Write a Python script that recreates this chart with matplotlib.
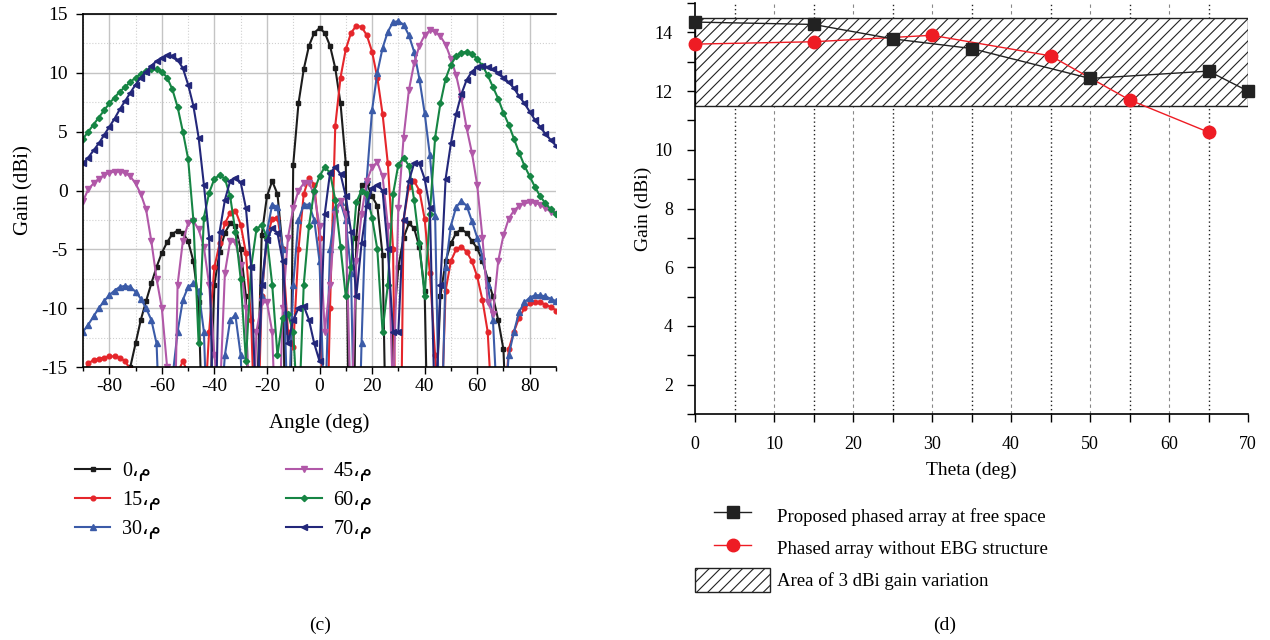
import numpy as np
import matplotlib
matplotlib.use("Agg")
import matplotlib.pyplot as plt
from matplotlib.lines import Line2D
from matplotlib.patches import Patch, Rectangle
from matplotlib.ticker import MultipleLocator
from matplotlib.legend_handler import HandlerLine2D

plt.rcParams["font.family"] = ["Liberation Serif", "DejaVu Sans"]
plt.rcParams["hatch.linewidth"] = 0.8
plt.rcParams["axes.unicode_minus"] = False

# -----------------------------
# (c) scanned patterns, gain vs angle, one sample every 2 deg
# -----------------------------
angles = np.arange(-90, 91, 2)

gain_0 = [
    -20, -20, -20, -20, -20, -20, -20, -20, -17, -15,
    -13, -11, -9.4, -7.9, -6.5, -5.3, -4.4, -3.7, -3.4, -3.6,
    -4.3, -6, -9.5, -25, -20, -8, -5.2, -3.6, -2.8, -3.0,
    -5, -9, -30, -20, -3.8, -0.5, 0.8, -0.3, -5, -40,
    2.2, 7.4, 10.3, 12.3, 13.4, 13.8, 13.4, 12.3, 10.4, 7.4,
    2.3, -40, -4, 0.5, 0.6, -0.5, -1.3, -5.5, -30, -12,
    -6.5, -4.0, -2.8, -3.2, -4.8, -8.5, -30, -20, -9, -6,
    -4.5, -3.6, -3.3, -3.6, -4.3, -4.9, -6, -7.5, -9, -11,
    -13.5, -25, -20, -20, -20, -20, -20, -20, -20, -20,
    -20,
]

gain_15 = [
    -16, -14.7, -14.4, -14.3, -14.2, -14.1, -14.1, -14.2, -14.5, -15.2,
    -18, -20, -20, -20, -20, -20, -20, -18, -15.5, -14.5,
    -15.5, -20, -25, -20, -12, -6.5, -4.5, -2.8, -1.9, -1.7,
    -2.9, -5.3, -11, -25, -9, -4, -2.4, -2.3, -5, -12,
    -13.3, -5, -0.3, 1.1, 0.5, -4, -30, -10, 5.5, 9.6,
    12, 13.4, 14, 13.9, 13.2, 11.8, 9.6, 6.5, 2.3, -5,
    -40, -2.5, 0.3, 0.8, 0, -2.4, -7, -14, -22, -8.5,
    -6, -5, -4.8, -5.2, -6, -7.3, -9.3, -12, -20, -25,
    -20, -13.5, -12, -10.8, -10, -9.6, -9.5, -9.5, -9.7, -9.9,
    -10.2,
]

gain_30 = [
    -12, -11.4, -10.7, -10, -9.4, -8.9, -8.5, -8.2, -8.1, -8.2,
    -8.6, -9.2, -10, -11, -13, -25, -20, -16, -12, -9.3,
    -8.2, -7.9, -8.5, -12, -25, -25, -20, -14, -11, -10.6,
    -14, -25, -25, -20, -9, -3.5, -1.2, -1.4, -5, -20,
    -8, -2.5, -1.2, -1.2, -2.5, -6, -20, -5, -1.5, -1,
    -2.5, -7, -30, -13, 1, 6.8, 10, 12.1, 13.5, 14.3,
    14.4, 14.1, 13.2, 11.8, 9.5, 6.6, 3, -2.2, -25, -6.5,
    -3, -1.4, -0.9, -1.3, -2.6, -4, -5.6, -8, -11, -20,
    -20, -14, -12, -10.3, -9.5, -9.1, -8.9, -8.9, -9, -9.2,
    -9.4,
]

gain_45 = [
    -0.9, 0.1, 0.6, 1.0, 1.3, 1.5, 1.6, 1.6, 1.5, 1.2,
    0.6, -0.3, -1.6, -4.3, -7.5, -10, -15, -30, -8, -4.3,
    -2.8, -2.6, -3.3, -4.8, -8, -14, -18, -7, -4.3, -4.4,
    -6.3, -10, -25, -12, -9.5, -9.5, -12, -25, -10, -4,
    -1.5, 0, 0.6, 0.6, -0.3, -3, -12, -8, -2, -0.9,
    -2, -20, -6, -2, 0.8, 2, 2.4, 1.2, -3, -18,
    -1.5, 4.5, 8.5, 10.8, 12.3, 13.2, 13.6, 13.5, 13.1, 12.4,
    11.2, 9.8, 7.8, 5.3, 3.2, 0.5, -4, -9.5, -10.5, -6,
    -3.8, -2.4, -1.7, -1.3, -1.1, -1, -1.05, -1.2, -1.5, -1.8,
    -2,
]

gain_60 = [
    4.4, 5.0, 5.6, 6.2, 6.8, 7.4, 7.9, 8.4, 8.8, 9.2,
    9.6, 9.9, 10.15, 10.3, 10.3, 10.1, 9.6, 8.6, 7.1, 5.0,
    2.7, -2.5, -13, -2.3, -0.2, 1.0, 1.3, 1.0, -0.5, -3.5,
    -7.5, -14.5, -6.5, -3.3, -2.9, -4, -8, -14, -10.8, -10.5,
    -12, -20, -8, -3, 0, 1.2, 2.0, 1.5, -0.8, -4.8,
    -9, -6.5, -1, 0, -0.3, -2.3, -5, -12, -8, -0.3,
    2.2, 2.8, 2.1, -0.8, -4.5, -9, -2, 4.5, 7.4, 9.5,
    10.7, 11.4, 11.7, 11.8, 11.6, 11.2, 10.6, 9.8, 8.8, 7.8,
    6.6, 5.6, 4.4, 3.2, 2.1, 1.2, 0.3, -0.5, -1.1, -1.6,
    -2.0,
]

gain_70 = [
    2.3, 2.8, 3.4, 4.0, 4.7, 5.4, 6.1, 6.9, 7.6, 8.3,
    9.0, 9.6, 10.1, 10.6, 11.0, 11.3, 11.5, 11.45, 11.1, 10.4,
    9.0, 7.2, 4.5, 0.5, -4, -25, -3.5, -0.8, 0.8, 1.1,
    0.7, -1.5, -6.5, -20, -8, -4.2, -3.2, -3.6, -6, -13,
    -11, -10, -9.8, -11, -13, -14.5, -2, 1.5, 2.0, 1.4,
    -0.5, -3.5, -9, -4.5, -1.3, 0.2, 0.5, 0, -5, -12,
    -12, -2.5, 0.8, 2.3, 2.3, 1.0, -1.5, -20, -8, 1.0,
    4, 6.5, 8.2, 9.4, 10.1, 10.5, 10.6, 10.5, 10.3, 10.0,
    9.6, 9.2, 8.7, 8.0, 7.4, 6.7, 6.0, 5.4, 4.8, 4.3,
    3.8,
]

scan_labels = ["0\u060c\u0645", "15\u060c\u0645", "30\u060c\u0645",
               "45\u060c\u0645", "60\u060c\u0645", "70\u060c\u0645"]

# -----------------------------
# (d) peak gain vs scan angle
# -----------------------------
theta_free = [0, 15, 25, 35, 50, 65, 70]
gain_free = [14.35, 14.27, 13.78, 13.45, 12.43, 12.68, 12.0]

theta_no_ebg = [0, 15, 30, 45, 55, 65]
gain_no_ebg = [13.6, 13.68, 13.9, 13.2, 11.7, 10.6]

band_low = 11.5
band_high = 14.5

W, H = 1270, 640
fig = plt.figure(figsize=(W / 100, H / 100), dpi=100)


def box(x0, y0, x1, y1):
    return [x0 / W, 1 - y1 / H, (x1 - x0) / W, (y1 - y0) / H]


class ShortLine(HandlerLine2D):
    # legend line drawn shorter than the handle box, centred in it
    def create_artists(self, legend, orig_handle, xdescent, ydescent,
                       width, height, fontsize, trans):
        cut = width * 0.25
        return super().create_artists(legend, orig_handle, xdescent - cut,
                                      ydescent, width - 2 * cut, height,
                                      fontsize, trans)


# -----------------------------
# Left panel
# -----------------------------
ax1 = fig.add_axes(box(83, 14, 556, 367))

series = [
    (gain_0, "#1c1c1c", "s", 3.2),
    (gain_15, "#e5262b", "o", 3.4),
    (gain_30, "#3b5ba8", "^", 4.0),
    (gain_45, "#b158a8", "v", 4.0),
    (gain_60, "#168544", "D", 3.2),
    (gain_70, "#23277a", "<", 4.0),
]

for (vals, color, marker, ms), label in zip(series, scan_labels):
    ax1.plot(angles, vals, color=color, marker=marker, markersize=ms,
             linewidth=1.5, label=label)

ax1.set_xlim(-90, 90)
ax1.set_ylim(-15, 15)
ax1.xaxis.set_major_locator(MultipleLocator(20))
ax1.xaxis.set_minor_locator(MultipleLocator(10))
ax1.yaxis.set_major_locator(MultipleLocator(5))
ax1.yaxis.set_minor_locator(MultipleLocator(2.5))
ax1.grid(True, which="major", color="#c4c4c4", linewidth=1.0)
ax1.grid(True, which="minor", color="#d0d0d0", linewidth=0.8, linestyle=":")
ax1.set_axisbelow(True)
ax1.spines["right"].set_visible(False)
for s in ["top", "left", "bottom"]:
    ax1.spines[s].set_linewidth(1.2)
ax1.tick_params(which="both", direction="out", labelsize=14, width=1)
ax1.tick_params(which="major", length=5, pad=3)
ax1.tick_params(which="minor", length=3)
ax1.tick_params(axis="y", which="minor", length=0)
ax1.tick_params(axis="y", which="major", pad=6)
ax1.set_xlabel("Angle (deg)", fontsize=15, labelpad=13)
ax1.set_ylabel("Gain (dBi)", fontsize=15, labelpad=6)

ax1.legend(loc="upper left", bbox_to_anchor=(-0.017, -0.269), ncol=2,
           frameon=False, fontsize=14.5, handlelength=1.75, borderpad=0,
           borderaxespad=0, columnspacing=6.2, labelspacing=0.5,
           handletextpad=0.6)

fig.text(320 / W, 1 - 625 / H, "(c)", fontsize=14, ha="center", va="center")

# -----------------------------
# Right panel
# -----------------------------
ax2 = fig.add_axes(box(695, 3, 1248, 414))

for x in range(5, 70, 10):
    ax2.axvline(x, color="#222222", linestyle=(0, (1, 2)), linewidth=1.0, zorder=1)
for x in range(10, 70, 10):
    ax2.axvline(x, color="#888888", linestyle=(0, (3, 3)), linewidth=0.8, zorder=1)

ax2.add_patch(Rectangle((0, band_low), 70, band_high - band_low,
                        facecolor="white", edgecolor="#222222",
                        hatch="///", linewidth=1.0, zorder=2))

ax2.plot(theta_free, gain_free, color="#222222", marker="s", markersize=8,
         linewidth=1.0, zorder=4, clip_on=False)
ax2.plot(theta_no_ebg, gain_no_ebg, color="#ee1c24", marker="o", markersize=9,
         linewidth=1.0, zorder=3, clip_on=False)

ax2.set_xlim(0, 70)
ax2.set_ylim(1, 15)
ax2.xaxis.set_major_locator(MultipleLocator(10))
ax2.xaxis.set_minor_locator(MultipleLocator(5))
ax2.yaxis.set_major_locator(MultipleLocator(2))
ax2.yaxis.set_minor_locator(MultipleLocator(1))
ax2.spines["right"].set_visible(False)
ax2.spines["top"].set_visible(False)
ax2.spines["left"].set_linewidth(1.2)
ax2.spines["bottom"].set_linewidth(1.2)
ax2.tick_params(which="both", direction="out", labelsize=13, width=1)
ax2.tick_params(which="major", length=6, pad=10)
ax2.tick_params(which="minor", length=6)
ax2.set_xlabel("Theta (deg)", fontsize=14, labelpad=6)
ax2.set_ylabel("Gain (dBi)", fontsize=14, labelpad=2)

handles = [
    Line2D([], [], color="#222222", marker="s", markersize=8, linewidth=1.0),
    Line2D([], [], color="#ee1c24", marker="o", markersize=9, linewidth=1.0),
    Patch(facecolor="white", edgecolor="#222222", hatch="///", linewidth=1.0),
]
labels = ["Proposed phased array at free space",
          "Phased array without EBG structure",
          "Area of 3 dBi gain variation"]
ax2.legend(handles, labels, loc="upper left", bbox_to_anchor=(0.0, -0.217),
           frameon=False, fontsize=13.5, handlelength=4.0, handleheight=1.65,
           borderpad=0, borderaxespad=0, labelspacing=0.4,
           handletextpad=0.35, handler_map={Line2D: ShortLine()})

fig.text(945 / W, 1 - 625 / H, "(d)", fontsize=14, ha="center", va="center")

fig.savefig("out.png", dpi=100)
